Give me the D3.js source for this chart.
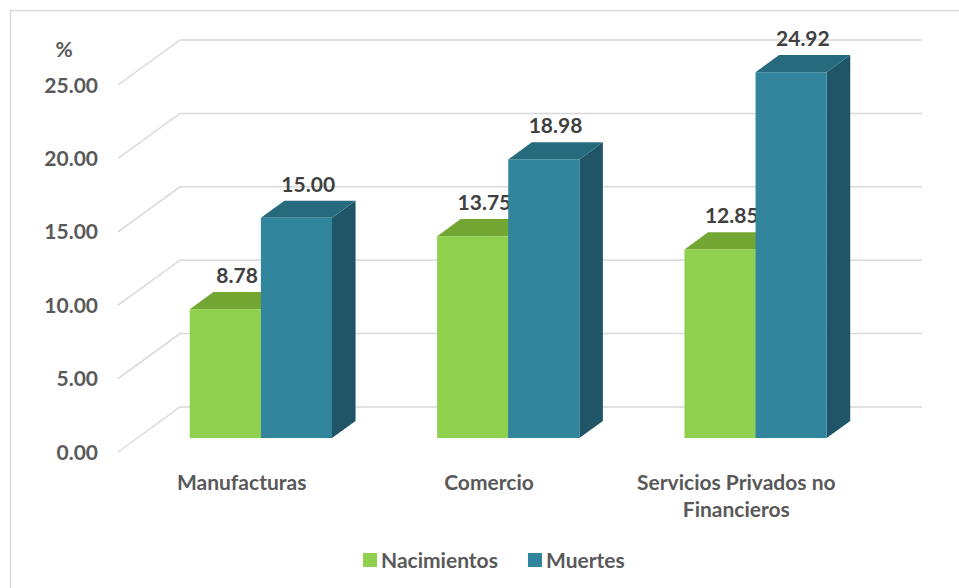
<!DOCTYPE html>
<html>
<head>
<meta charset="utf-8">
<script src="https://cdn.jsdelivr.net/npm/d3@7"></script>
<style>
  html, body { margin: 0; padding: 0; background: #fff; }
  svg { display: block; font-family: Lato, "Open Sans", sans-serif; }
</style>
</head>
<body>
<svg id="chart" width="959" height="588"></svg>
<script>
// Tasas por sector (%)
const categories = [["Manufacturas"], ["Comercio"], ["Servicios Privados no", "Financieros"]];
const seriesNames = ["Nacimientos", "Muertes"];
const nacimientos = [8.78, 13.75, 12.85];
const muertes = [15.00, 18.98, 24.92];
const tickValues = [0, 5, 10, 15, 20, 25];

const colors = {
  Nacimientos: { front: "#8fd14f", top: "#74a634", side: "#5f8a2a" },
  Muertes: { front: "#31859c", top: "#266b7d", side: "#1f5566" }
};

const svg = d3.select("#chart");

// Frame
svg.append("path")
  .attr("d", "M10.5,600 V10.5 H970")
  .attr("fill", "none")
  .attr("stroke", "#d9d9d9")
  .attr("stroke-width", 1.5);

// Front plane geometry plus an oblique depth vector
const left = 118, right = 860;
const DX = 62, DY = -45;
const t0 = 0.31, t1 = 0.69;   // depth slab occupied by the bars

const y = d3.scaleLinear().domain([0, 25]).range([452, 85]);
const catKeys = categories.map(c => c.join(" "));
const x0 = d3.scaleBand().domain(catKeys).range([left, right])
  .paddingInner(0.425).paddingOuter(0.2125);
const x1 = d3.scaleBand().domain(seriesNames).range([0, x0.bandwidth()]);

const fmt = d3.format(".2f");

// Gridlines: side wall diagonal + back wall horizontal
const grid = svg.append("g").attr("stroke", "#d9d9d9").attr("stroke-width", 1.5).attr("fill", "none");
tickValues.forEach(v => {
  const yf = y(v);
  grid.append("path")
    .attr("d", `M${left},${yf} L${left + DX},${yf + DY} L${right + DX},${yf + DY}`);
});

// Y axis labels
svg.append("g").selectAll("text").data(tickValues).join("text")
  .attr("x", 98)
  .attr("y", d => y(d))
  .attr("dy", "0.36em")
  .attr("text-anchor", "end")
  .attr("fill", "#595959")
  .attr("font-size", 21)
  .attr("font-weight", 700)
  .text(d => fmt(d));

svg.append("text")
  .attr("x", 64).attr("y", 57)
  .attr("text-anchor", "middle")
  .attr("fill", "#595959")
  .attr("font-size", 21)
  .attr("font-weight", 700)
  .text("%");

// Bars
const rows = [];
catKeys.forEach((c, i) => {
  rows.push({ cat: c, s: "Nacimientos", v: nacimientos[i] });
  rows.push({ cat: c, s: "Muertes", v: muertes[i] });
});

const bars = svg.append("g");
rows.forEach(d => {
  const xa = x0(d.cat) + x1(d.s) + t0 * DX;
  const xb = xa + x1.bandwidth();
  const yBase = y(0) + t0 * DY;
  const yTop = y(d.v) + t0 * DY;
  const ddx = (t1 - t0) * DX, ddy = (t1 - t0) * DY;
  const c = colors[d.s];
  const g = bars.append("g");
  g.append("path")
    .attr("d", `M${xb},${yTop} L${xb + ddx},${yTop + ddy} L${xb + ddx},${yBase + ddy} L${xb},${yBase} Z`)
    .attr("fill", c.side);
  g.append("path")
    .attr("d", `M${xa},${yTop} L${xa + ddx},${yTop + ddy} L${xb + ddx},${yTop + ddy} L${xb},${yTop} Z`)
    .attr("fill", c.top);
  g.append("rect")
    .attr("x", xa).attr("y", yTop)
    .attr("width", xb - xa).attr("height", yBase - yTop)
    .attr("fill", c.front);
  g.append("text")
    .attr("x", (xa + xb) / 2 + ddx / 2)
    .attr("y", yTop + ddy - 9)
    .attr("text-anchor", "middle")
    .attr("fill", "#404040")
    .attr("font-size", 21)
    .attr("font-weight", 700)
    .text(fmt(d.v));
});

// Category labels
const catG = svg.append("g");
categories.forEach((lines, i) => {
  const cx = x0(catKeys[i]) + x0.bandwidth() / 2;
  const t = catG.append("text")
    .attr("x", cx)
    .attr("y", 490)
    .attr("text-anchor", "middle")
    .attr("fill", "#595959")
    .attr("font-size", 21)
    .attr("font-weight", 700);
  lines.forEach((ln, k) => {
    t.append("tspan")
      .attr("x", cx)
      .attr("dy", k === 0 ? 0 : 27)
      .text(ln);
  });
});

// Legend
const legend = svg.append("g");
const legendX = [363, 528];
seriesNames.forEach((s, i) => {
  legend.append("rect")
    .attr("x", legendX[i]).attr("y", 553)
    .attr("width", 14).attr("height", 14)
    .attr("fill", colors[s].front);
  legend.append("text")
    .attr("x", legendX[i] + 18).attr("y", 568)
    .attr("fill", "#595959")
    .attr("font-size", 21)
    .attr("font-weight", 700)
    .text(s);
});
</script>
</body>
</html>
